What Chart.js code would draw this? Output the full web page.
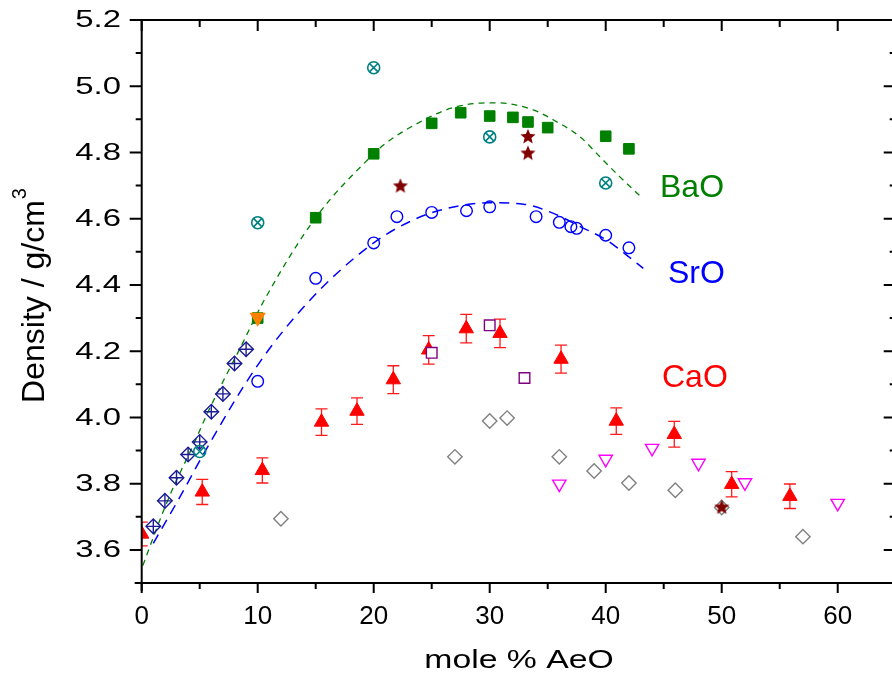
<!DOCTYPE html>
<html>
<head>
<meta charset="utf-8">
<script src="https://cdn.jsdelivr.net/npm/chart.js@4.4.1/dist/chart.umd.min.js"></script>
<style>
  html, body { margin: 0; padding: 0; background: #fff; }
</style>
</head>
<body>
<canvas id="density-chart" width="892" height="684"></canvas>
<script>
// BaO glasses (filled squares)
var baoX = [10, 15, 20, 25, 27.5, 30, 32, 33.3, 35, 40, 42];
var baoY = [4.30, 4.603, 4.796, 4.888, 4.920, 4.910, 4.906, 4.892, 4.875, 4.849, 4.811];
// BaO, second source (crossed circles)
var bao2X = [5, 10, 20, 30, 40];
var bao2Y = [3.897, 4.588, 5.056, 4.847, 4.708];
// stars
var starX = [22.3, 33.3, 33.3, 50];
var starY = [4.698, 4.847, 4.797, 3.728];
// SrO glasses (open circles)
var sroX = [10, 15, 20, 22, 25, 28, 30, 34, 36, 37, 37.5, 40, 42];
var sroY = [4.109, 4.420, 4.527, 4.606, 4.619, 4.624, 4.636, 4.606, 4.589, 4.576, 4.571, 4.550, 4.512];
// crossed diamonds, low AeO range
var lowX = [1, 2, 3, 4, 5, 6, 7, 8, 9];
var lowY = [3.671, 3.748, 3.818, 3.888, 3.926, 4.017, 4.071, 4.163, 4.206];
// CaO glasses with error bars
var caoX = [0, 5.22, 10.4, 15.5, 18.56, 21.69, 24.74, 27.98, 30.89, 36.15, 40.91, 45.91, 50.86, 55.88];
var caoY = [3.648, 3.775, 3.840, 3.986, 4.019, 4.114, 4.204, 4.268, 4.254, 4.176, 3.989, 3.949, 3.798, 3.762];
var caoErr = [0.036, 0.038, 0.038, 0.040, 0.040, 0.042, 0.043, 0.043, 0.043, 0.042, 0.040, 0.039, 0.038, 0.037];
// open squares
var sqX = [25, 30, 33];
var sqY = [4.195, 4.278, 4.119];
// open grey diamonds
var dmX = [12, 27, 30, 31.5, 36, 39, 42, 46, 50, 57];
var dmY = [3.694, 3.881, 3.989, 3.998, 3.881, 3.838, 3.802, 3.780, 3.728, 3.640];
// open down triangles
var triX = [36, 40, 44, 48, 52, 60];
var triY = [3.799, 3.874, 3.907, 3.862, 3.803, 3.741];
// single orange point
var orX = [10];
var orY = [4.302];

// dashed guide curves
var baoFitX = [0.1, 1.9, 3, 4.5, 5.5, 6.6, 8.5, 10.5, 15, 20, 21, 24.6, 26.9, 30, 30.6, 33.8, 35.5, 37.8, 39.5, 41.2, 43.1];
var baoFitY = [3.553, 3.72, 3.81, 3.92, 4.00, 4.08, 4.21, 4.35, 4.603, 4.796, 4.827, 4.903, 4.936, 4.950, 4.950, 4.928, 4.898, 4.847, 4.787, 4.727, 4.664];
var sroFitX = [1.0, 3.3, 5.5, 10, 14.5, 20, 23.4, 26.3, 30, 32.9, 35.5, 37.8, 40.1, 41.8, 43.24];
var sroFitY = [3.62, 3.76, 3.90, 4.158, 4.354, 4.527, 4.596, 4.631, 4.648, 4.644, 4.616, 4.576, 4.535, 4.490, 4.450];

var xTickLabels = ['0', '10', '20', '30', '40', '50', '60'];
var yTickLabels = ['3.6', '3.8', '4.0', '4.2', '4.4', '4.6', '4.8', '5.0', '5.2'];

var FONT = '"Liberation Sans", Arial, sans-serif';

function pts(xs, ys) {
    return xs.map(function (x, i) { return {x: x, y: ys[i]}; });
}

function makeStar(r, color) {
    var c = document.createElement('canvas');
    var s = Math.ceil(r * 2) + 2;
    c.width = s;
    c.height = s;
    var g = c.getContext('2d');
    g.beginPath();
    for (var i = 0; i < 10; i++) {
        var a = -Math.PI / 2 + i * Math.PI / 5;
        var rr = i % 2 ? r * 0.45 : r;
        g.lineTo(s / 2 + rr * Math.cos(a), s / 2 + rr * Math.sin(a));
    }
    g.closePath();
    g.fillStyle = color;
    g.fill();
    return c;
}

function marker(data, style, color, fill, radius, order, extra) {
    var ds = {
        data: data,
        pointStyle: style,
        pointRadius: radius,
        pointHoverRadius: radius,
        pointBorderColor: color,
        pointBackgroundColor: fill,
        pointBorderWidth: 1.4,
        showLine: false,
        order: order
    };
    if (extra) Object.assign(ds, extra);
    return ds;
}

function curve(data, color, dash, width) {
    return {
        data: data,
        showLine: true,
        borderColor: color,
        borderWidth: width,
        borderDash: dash,
        pointRadius: 0,
        pointHoverRadius: 0,
        cubicInterpolationMode: 'monotone',
        fill: false,
        order: 50
    };
}

function stretched(ctx, text, x, y, sx, align) {
    ctx.save();
    ctx.translate(x, y);
    ctx.scale(sx, 1);
    ctx.textAlign = align;
    ctx.fillText(text, 0, 0);
    ctx.restore();
}

// error bars under the CaO triangles
var errorBars = {
    id: 'errorBars',
    beforeDatasetsDraw: function (chart) {
        var ctx = chart.ctx, xs = chart.scales.x, ys = chart.scales.y, a = chart.chartArea;
        ctx.save();
        ctx.beginPath();
        ctx.rect(a.left, a.top, a.right - a.left, a.bottom - a.top);
        ctx.clip();
        ctx.strokeStyle = '#ff1a1a';
        ctx.lineWidth = 1.3;
        caoX.forEach(function (v, i) {
            var px = xs.getPixelForValue(v);
            var top = ys.getPixelForValue(caoY[i] + caoErr[i]);
            var bot = ys.getPixelForValue(caoY[i] - caoErr[i]);
            ctx.beginPath();
            ctx.moveTo(px, top); ctx.lineTo(px, bot);
            ctx.moveTo(px - 6, top); ctx.lineTo(px + 6, top);
            ctx.moveTo(px - 6, bot); ctx.lineTo(px + 6, bot);
            ctx.stroke();
        });
        ctx.restore();
    }
};

// frame, ticks and all text
var frame = {
    id: 'frame',
    afterDraw: function (chart) {
        var ctx = chart.ctx, xs = chart.scales.x, ys = chart.scales.y;
        var L = xs.getPixelForValue(0), R = xs.getPixelForValue(65);
        var T = ys.getPixelForValue(5.2), B = ys.getPixelForValue(3.5);
        ctx.save();
        ctx.strokeStyle = '#000';
        ctx.lineWidth = 2;
        ctx.beginPath();
        ctx.moveTo(L, T - 1); ctx.lineTo(L, B + 8);
        ctx.moveTo(L - 7, B); ctx.lineTo(892, B);
        ctx.moveTo(L, T); ctx.lineTo(R, T);
        ctx.moveTo(R, T); ctx.lineTo(R, B);
        ctx.stroke();

        ctx.beginPath();
        for (var v = 0; v <= 65; v += 5) {
            var px = xs.getPixelForValue(v);
            var len = v % 10 === 0 ? 10 : 6;
            ctx.moveTo(px, B); ctx.lineTo(px, B + len);
            ctx.moveTo(px, T); ctx.lineTo(px, T + len + 1);
        }
        for (var k = 35; k <= 52; k++) {
            var py = ys.getPixelForValue(k / 10);
            var l2 = k % 2 === 0 ? 12 : 6;
            ctx.moveTo(L, py); ctx.lineTo(L - l2, py);
            ctx.moveTo(R, py); ctx.lineTo(R - l2, py);
        }
        ctx.stroke();

        ctx.fillStyle = '#000';
        ctx.textBaseline = 'alphabetic';
        ctx.font = '26px ' + FONT;
        xTickLabels.forEach(function (t) {
            stretched(ctx, t, xs.getPixelForValue(+t), 624, 1, 'center');
        });
        ctx.font = '23px ' + FONT;
        ctx.textBaseline = 'middle';
        yTickLabels.forEach(function (t) {
            stretched(ctx, t, 121, ys.getPixelForValue(+t) + 1, 1.43, 'right');
        });

        ctx.textBaseline = 'alphabetic';
        ctx.font = '25px ' + FONT;
        stretched(ctx, 'mole % AeO', 519, 668, 1.35, 'center');

        // rotated y title with superscript
        ctx.save();
        ctx.translate(43.5, 296);
        ctx.rotate(-Math.PI / 2);
        ctx.font = '32px ' + FONT;
        var main = 'Density / g/cm';
        var wm = ctx.measureText(main).width;
        ctx.font = '20px ' + FONT;
        var ws = ctx.measureText('3').width;
        var x0 = -(wm + ws) / 2;
        ctx.textAlign = 'left';
        ctx.font = '32px ' + FONT;
        ctx.fillText(main, x0, 0);
        ctx.font = '20px ' + FONT;
        ctx.fillText('3', x0 + wm + 1, -18);
        ctx.restore();

        ctx.font = '32px ' + FONT;
        ctx.textAlign = 'left';
        ctx.fillStyle = '#008000';
        ctx.fillText('BaO', 660, 197);
        ctx.fillStyle = '#0000ff';
        ctx.fillText('SrO', 668, 283);
        ctx.fillStyle = '#ff0000';
        ctx.fillText('CaO', 662, 387);
        ctx.restore();
    }
};

var starImg = makeStar(8, '#800000');

new Chart(document.getElementById('density-chart'), {
    type: 'scatter',
    data: {
        datasets: [
            marker(pts(orX, orY), 'triangle', '#ff8000', '#ff8000', 8, 1, {rotation: 180}),
            marker(pts(starX, starY), starImg, '#800000', '#800000', 8, 2),
            marker(pts(sqX, sqY), 'rect', '#800080', '#ffffff', 7.5, 3),
            marker(pts(bao2X, bao2Y), 'circle', '#008080', 'rgba(0,0,0,0)', 6, 4, {pointBorderWidth: 1.6}),
            marker(pts(bao2X, bao2Y), 'crossRot', '#008080', 'rgba(0,0,0,0)', 6, 4, {pointBorderWidth: 1.6}),
            marker(pts(triX, triY), 'triangle', '#ff00ff', 'rgba(0,0,0,0)', 7.7, 5, {rotation: 180}),
            marker(pts(dmX, dmY), 'rectRot', '#808080', 'rgba(0,0,0,0)', 7.2, 6),
            marker(pts(lowX, lowY), 'rectRot', '#1c1c96', 'rgba(0,0,0,0)', 7.3, 7),
            marker(pts(lowX, lowY), 'cross', '#1c1c96', 'rgba(0,0,0,0)', 7.3, 7),
            marker(pts(caoX, caoY), 'triangle', '#ff0000', '#ff0000', 8.3, 8, {clip: 0, pointBorderWidth: 1}),
            marker(pts(sroX, sroY), 'circle', '#0000ff', 'rgba(0,0,0,0)', 5.8, 9),
            marker(pts(baoX, baoY), 'rect', '#008000', '#008000', 7.5, 10, {pointBorderWidth: 1}),
            curve(pts(baoFitX, baoFitY), '#008000', [6, 5], 1.3),
            curve(pts(sroFitX, sroFitY), '#0000ff', [10, 7], 1.5)
        ]
    },
    options: {
        responsive: false,
        animation: false,
        devicePixelRatio: 1,
        layout: {autoPadding: false, padding: {left: 141.7, right: 0, top: 20, bottom: 101}},
        scales: {
            x: {type: 'linear', min: 0, max: 64.68, display: false},
            y: {type: 'linear', min: 3.5, max: 5.2, display: false}
        },
        plugins: {
            legend: {display: false},
            tooltip: {enabled: false}
        }
    },
    plugins: [errorBars, frame]
});
</script>
</body>
</html>
